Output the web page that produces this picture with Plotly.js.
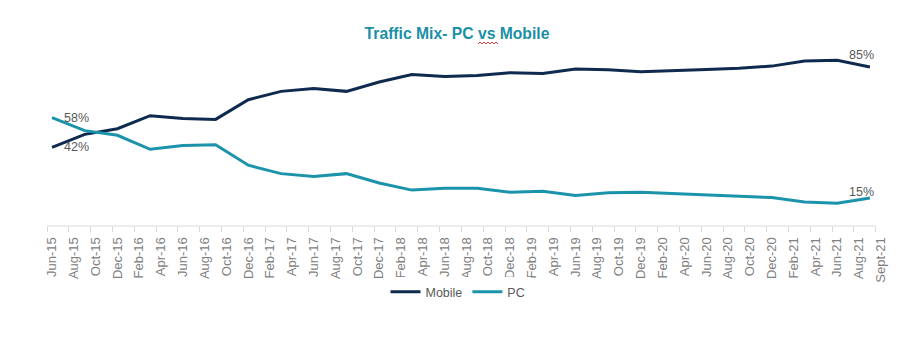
<!DOCTYPE html>
<html>
<head>
<meta charset="utf-8">
<script src="https://cdn.plot.ly/plotly-3.0.1.min.js"></script>
<style>html,body{margin:0;padding:0;background:#fff}#chart{width:907px;height:337px}</style>
</head>
<body>
<div id="chart"></div>
<script>
// Quarterly observations
const quarters = ['Jun-15','Sep-15','Dec-15','Mar-16','Jun-16','Sep-16','Dec-16','Mar-17','Jun-17',
  'Sep-17','Dec-17','Mar-18','Jun-18','Sep-18','Dec-18','Mar-19','Jun-19','Sep-19','Dec-19',
  'Mar-20','Jun-20','Sep-20','Dec-20','Mar-21','Jun-21','Sep-21'];
const mobile = [42, 49, 52, 59, 57.5, 57, 67.5, 72, 73.5, 72, 77, 81, 80, 80.5, 82, 81.5, 84, 83.5, 82.5,
  83, 83.7, 84.4, 85.5, 88.2, 88.6, 85];
const pc = [58, 51, 48.5, 41, 43, 43.5, 32.5, 28, 26.5, 28, 23, 19.2, 20.2, 20.2, 18, 18.6, 16.3, 17.8, 18,
  17.3, 16.6, 16, 15.2, 12.8, 12.2, 15];
// Axis labels (every two months)
const tickLabels = ['Jun-15','Aug-15','Oct-15','Dec-15','Feb-16','Apr-16','Jun-16','Aug-16','Oct-16','Dec-16',
  'Feb-17','Apr-17','Jun-17','Aug-17','Oct-17','Dec-17','Feb-18','Apr-18','Jun-18','Aug-18','Oct-18','Dec-18',
  'Feb-19','Apr-19','Jun-19','Aug-19','Oct-19','Dec-19','Feb-20','Apr-20','Jun-20','Aug-20','Oct-20','Dec-20',
  'Feb-21','Apr-21','Jun-21','Aug-21','Sept-21'];
const seriesNames = ['Mobile', 'PC'];
const titleText = 'Traffic Mix- PC vs Mobile';

const MONTHS = {Jan:1,Feb:2,Mar:3,Apr:4,May:5,Jun:6,Jul:7,Aug:8,Sep:9,Oct:10,Nov:11,Dec:12};
function monthIndex(lbl){
  const [mm, yy] = lbl.split('-');
  return (parseInt(yy,10) - 15) * 12 + MONTHS[mm.slice(0,3)] - 6;
}
const xs = quarters.map(monthIndex);
const tickvals = tickLabels.map((_, i) => i * 2);
const boundaryTicks = tickLabels.map((_, i) => i * 2 - 0.46);

const NAVY = '#0f2a4f', TEAL = '#1b93ab', LBL = '#595959';
const FONT = 'Liberation Sans, Arial, sans-serif';

const traces = [
  {x: xs, y: mobile, name: seriesNames[0], type: 'scatter', mode: 'lines',
   line: {color: NAVY, width: 3}, hoverinfo: 'skip'},
  {x: xs, y: pc, name: seriesNames[1], type: 'scatter', mode: 'lines',
   line: {color: TEAL, width: 3}, hoverinfo: 'skip'}
];

const last = xs.length - 1;
const fmt = v => Math.round(v) + '%';
const annFont = {family: FONT, size: 12.5, color: LBL};
const annotations = [
  {x: xs[0], y: pc[0], xref: 'x', yref: 'y', text: fmt(pc[0]), showarrow: false, xanchor: 'left', xshift: 10, yshift: 0, font: annFont},
  {x: xs[0], y: mobile[0], xref: 'x', yref: 'y', text: fmt(mobile[0]), showarrow: false, xanchor: 'left', xshift: 10, yshift: 0, font: annFont},
  {x: xs[last], y: mobile[last], xref: 'x', yref: 'y', text: fmt(mobile[last]), showarrow: false, xanchor: 'center', xshift: -8, yshift: 12, font: annFont},
  {x: xs[last], y: pc[last], xref: 'x', yref: 'y', text: fmt(pc[last]), showarrow: false, xanchor: 'center', xshift: -8, yshift: 6, font: annFont}
];

// red spell-check squiggle under "vs" (decoration present in the reference screenshot)
const plotL = 47, plotW = 836, plotB = 226, plotH = 187;
let sq = '';
for (let i = 0, px = 478; px <= 498; px += 2, i++) {
  const py = (i % 2 === 0) ? 44 : 42;
  const xp = (px - plotL) / plotW, yp = (plotB - py) / plotH;
  sq += (i === 0 ? 'M ' : ' L ') + xp.toFixed(5) + ',' + yp.toFixed(5);
}

const shapes = [
  {type: 'line', xref: 'x', yref: 'paper', x0: boundaryTicks[0], x1: boundaryTicks[boundaryTicks.length - 1],
   y0: 0, y1: 0, line: {color: '#d9d9d9', width: 1}},
  {type: 'path', xref: 'paper', yref: 'paper', path: sq, line: {color: '#e03a3a', width: 1}}
];

const layout = {
  width: 907, height: 337,
  margin: {l: 47, r: 24, t: 39, b: 111, pad: 0},
  paper_bgcolor: '#fff', plot_bgcolor: '#fff',
  font: {family: FONT, size: 12, color: LBL},
  title: {text: '<b>' + titleText + '</b>', x: 457 / 907, xref: 'container', xanchor: 'center',
          y: 1 - 34 / 337, yref: 'container', yanchor: 'middle',
          font: {family: FONT, size: 15.7, color: '#1b8fa6'}},
  xaxis: {
    range: [-0.46, 76.2], showgrid: false, zeroline: false, showline: false,
    tickmode: 'array', tickvals: tickvals, ticktext: tickLabels, tickangle: -90,
    ticks: 'outside', ticklen: 5, tickcolor: 'rgba(0,0,0,0)',
    tickfont: {family: FONT, size: 13, color: '#808080'},
    minor: {tickmode: 'array', tickvals: boundaryTicks, ticks: 'outside', ticklen: 5, tickcolor: '#d9d9d9', tickwidth: 1, showgrid: false},
    fixedrange: true
  },
  yaxis: {range: [0, 100], visible: false, fixedrange: true},
  showlegend: true,
  legend: {orientation: 'h', x: (458 - plotL) / plotW, xanchor: 'center', y: -0.353, yanchor: 'middle',
           font: {family: FONT, size: 12.5, color: LBL}, itemwidth: 30},
  annotations: annotations,
  shapes: shapes
};

Plotly.newPlot('chart', traces, layout, {displayModeBar: false, staticPlot: true});
</script>
</body>
</html>
